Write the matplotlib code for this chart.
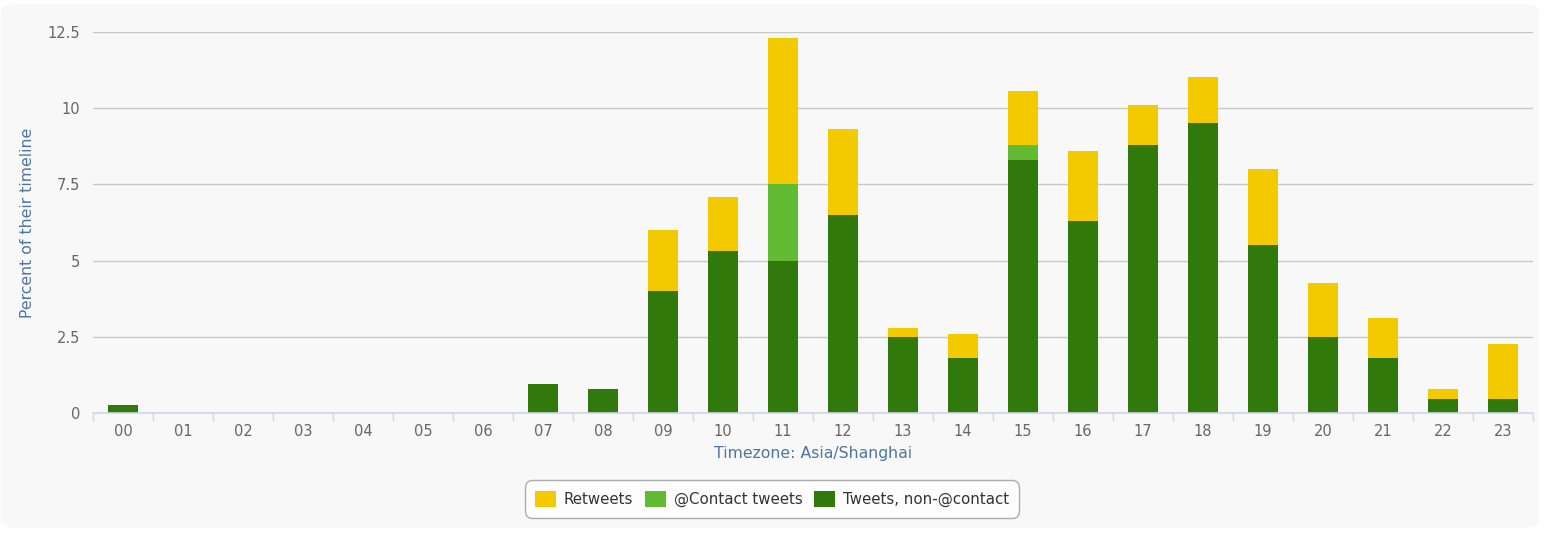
import matplotlib
matplotlib.use("Agg")
import matplotlib.pyplot as plt
from matplotlib.patches import FancyBboxPatch
import numpy as np

hours = ["00", "01", "02", "03", "04", "05", "06", "07", "08", "09", "10", "11",
         "12", "13", "14", "15", "16", "17", "18", "19", "20", "21", "22", "23"]
tweets_noncontact = [0.27, 0, 0, 0, 0, 0, 0, 0.95, 0.79, 4.0, 5.3, 5.0,
                     6.5, 2.5, 1.8, 8.3, 6.3, 8.8, 9.5, 5.5, 2.5, 1.8, 0.47, 0.47]
contact_tweets = [0, 0, 0, 0, 0, 0, 0, 0, 0, 0, 0, 2.5,
                  0, 0, 0, 0.5, 0, 0, 0, 0, 0, 0, 0, 0]
retweets = [0, 0, 0, 0, 0, 0, 0, 0, 0, 2.0, 1.8, 4.8,
            2.83, 0.3, 0.8, 1.77, 2.3, 1.3, 1.52, 2.5, 1.77, 1.33, 0.32, 1.8]
yticks = [0, 2.5, 5, 7.5, 10, 12.5]
ytick_labels = ["0", "2.5", "5", "7.5", "10", "12.5"]

c_rt = "#f3ca00"
c_ct = "#62bb33"
c_nc = "#31790a"
bg = "#f8f8f8"

plt.rcParams['font.family'] = ['DejaVu Sans']

W, H = 1546, 534
fig = plt.figure(figsize=(W / 100, H / 100), dpi=100, facecolor="white")
panel = FancyBboxPatch((1 / W, 6 / H), (W - 8) / W, (H - 10) / H,
                       boxstyle="round,pad=0,rounding_size=0.012",
                       transform=fig.transFigure, facecolor=bg, edgecolor="none", zorder=-10)
fig.patches.append(panel)

ax = fig.add_axes([93 / W, 1 - 413 / H, (1533 - 93) / W, (413 - 32) / H])
ax.set_facecolor(bg)
ax.patch.set_alpha(0)

x = np.arange(len(hours))
nc = np.array(tweets_noncontact)
ct = np.array(contact_tweets)
rt = np.array(retweets)
b1 = ax.bar(x, nc, width=0.5, color=c_nc, zorder=3, label="Tweets, non-@contact")
b2 = ax.bar(x, ct, width=0.5, bottom=nc, color=c_ct, zorder=3, label="@Contact tweets")
b3 = ax.bar(x, rt, width=0.5, bottom=nc + ct, color=c_rt, zorder=3, label="Retweets")

ax.set_xlim(-0.5, len(hours) - 0.5)
ax.set_ylim(0, 12.5)
ax.set_yticks(yticks)
ax.set_yticklabels(ytick_labels)
ax.set_xticks(x)
ax.set_xticklabels(hours)
ax.set_xticks(np.arange(-0.5, len(hours), 1), minor=True)
ax.tick_params(axis='x', which='major', length=0, pad=8, labelsize=10.5, labelcolor="#666666")
ax.tick_params(axis='x', which='minor', length=6, width=1, color="#ccd6eb")
ax.tick_params(axis='y', length=0, pad=9, labelsize=10.5, labelcolor="#666666")

ax.grid(axis='y', color="#c8c8c8", linewidth=1, zorder=0)
for s in ["top", "right", "left"]:
    ax.spines[s].set_visible(False)
ax.spines["bottom"].set_color("#ccd6eb")
ax.spines["bottom"].set_linewidth(1.2)
ax.spines["bottom"].set_zorder(4)

ax.set_xlabel("Timezone: Asia/Shanghai", color="#4d759e", fontsize=11.3, labelpad=5)
ax.set_ylabel("Percent of their timeline", color="#4d759e", fontsize=11.3, labelpad=9)

leg = fig.legend(handles=[b3, b2, b1], labels=["Retweets", "@Contact tweets", "Tweets, non-@contact"],
                 loc="center", bbox_to_anchor=(772 / W, 1 - 499 / H), ncol=3,
                 frameon=True, fontsize=10.8, handlelength=1.4, handleheight=1.3,
                 handletextpad=0.5, columnspacing=0.8, borderpad=0.5,
                 fancybox=True, edgecolor="#999999", facecolor="#ffffff", labelcolor="#333333")
leg.get_frame().set_linewidth(1)
leg.get_frame().set_boxstyle("round,pad=0.2,rounding_size=0.5")

fig.savefig("out.png", dpi=100, facecolor="white")
